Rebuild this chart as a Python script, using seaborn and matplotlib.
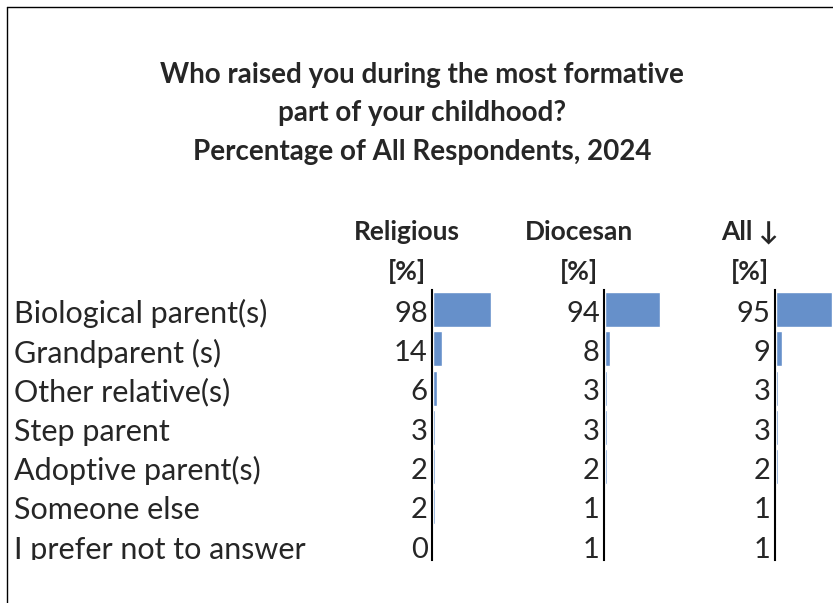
import numpy as np
import pandas as pd
import seaborn as sns
import matplotlib.pyplot as plt
from matplotlib.lines import Line2D

sns.set_theme(style='white')
plt.rcParams['font.family'] = ['Lato', 'DejaVu Sans']

# Datos
categorias = ['Biological parent(s)', 'Grandparent (s)', 'Other relative(s)', 'Step parent',
              'Adoptive parent(s)', 'Someone else', 'I prefer not to answer']
religiosos = [98, 14, 6, 3, 2, 2, 0]
diocesanos = [94, 8, 3, 3, 2, 1, 1]
todos = [95, 9, 3, 3, 2, 1, 1]
columnas = ['Religious', 'Diocesan', 'All \u2193']

W, H = 833, 603
fig = plt.figure(figsize=(W / 100, H / 100), dpi=100)
color_barra = '#6690CA'
fs_titulo = 20
fs_cabecera = 19
fs_texto = 22
fs_num = 21


def caja(x, y, w, h):
    # coordenadas en pixeles (origen arriba a la izquierda) -> fraccion de figura
    return [x / W, 1 - (y + h) / H, w / W, h / H]


# Borde del cuadro
fig.add_artist(Line2D([7 / W, 7 / W], [0, 1 - 7 / H], color='black', lw=1, transform=fig.transFigure))
fig.add_artist(Line2D([7 / W, 1], [1 - 7 / H, 1 - 7 / H], color='black', lw=1, transform=fig.transFigure))

# Titulo
titulo = ['Who raised you during the most formative', 'part of your childhood?',
          'Percentage of All Respondents, 2024']
for linea, y in zip(titulo, [75, 113, 152]):
    fig.text(422 / W, 1 - y / H, linea, ha='center', va='center', fontsize=fs_titulo, fontweight='bold')

y_top, y_bot = 290, 560
ylim = (6.37, -0.5)

# Etiquetas de categorias (recortadas abajo, como en la tabla original)
ax_lab = fig.add_axes(caja(0, y_top, W, y_bot - y_top))
ax_lab.set_xlim(0, W)
ax_lab.set_ylim(*ylim)
ax_lab.axis('off')
for i, c in enumerate(categorias):
    ax_lab.text(14, i + 0.04, c, ha='left', va='center_baseline', fontsize=fs_texto, clip_on=True)

ejes_x = [432, 604, 775]
centros_cab = [407, 579, 750]
for serie, nombre, x0, xc in zip([religiosos, diocesanos, todos], columnas, ejes_x, centros_cab):
    ax = fig.add_axes(caja(x0, y_top, 60, y_bot - y_top))
    df = pd.DataFrame({'cat': categorias, 'val': serie})
    sns.barplot(data=df, x='val', y='cat', orient='h', color=color_barra, saturation=1,
                width=0.89, ax=ax)
    ax.set_xlim(-2.5, 100)
    ax.set_ylim(*ylim)
    ax.set_xticks([])
    ax.set_yticks([])
    ax.set_xlabel('')
    ax.set_ylabel('')
    for lado in ['top', 'right', 'bottom']:
        ax.spines[lado].set_visible(False)
    ax.spines['left'].set_color('black')
    ax.spines['left'].set_linewidth(1.5)
    ax.spines['left'].set_position(('data', -2.5))
    ax.patch.set_alpha(0)
    for i, v in enumerate(serie):
        ax.text(-0.07, i + 0.04, str(v), transform=ax.get_yaxis_transform(), ha='right',
                va='center_baseline', fontsize=fs_num, clip_on=False)
    fig.text(xc / W, 1 - 232 / H, nombre, ha='center', va='center', fontsize=fs_cabecera, fontweight='bold')
    fig.text(xc / W, 1 - 271 / H, '[%]', ha='center', va='center', fontsize=fs_cabecera, fontweight='bold')

plt.savefig('out.png', dpi=100)
